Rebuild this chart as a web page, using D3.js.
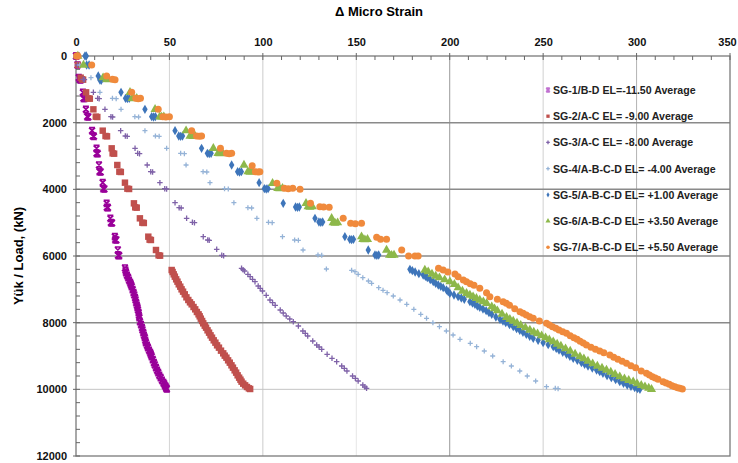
<!DOCTYPE html>
<html>
<head>
<meta charset="utf-8">
<script src="https://cdn.jsdelivr.net/npm/d3@7/dist/d3.min.js"></script>
<style>
  html, body { margin: 0; padding: 0; background: #fff; }
  svg { display: block; font-family: "Liberation Sans", Arial, sans-serif; }
</style>
</head>
<body>
<svg id="chart" width="738" height="463"></svg>
<script>
// Strain gauge readings: [delta micro strain, load kN]
const sg1 = [[0,0],[0.3,0],[0.8,270],[1.5,650],[2.0,700],[2.4,720],[3.7,1090],[4.0,1270],[4.5,1270],
  [5.3,1600],[6.0,1820],[6.6,1830],[8.6,2240],[9.0,2400],[9.6,2410],[11.0,2770],[11.0,2920],[11.6,2930],
  [12.3,3270],[12.6,3470],[13.2,3480],[14.3,3800],[14.6,3980],[15.2,3990],[16.4,4420],[16.5,4540],[17.1,4550],
  [18.4,4870],[18.7,5000],[19.3,5010],[20.8,5420],[21.0,5510],[21.6,5520],[22.4,5820],[22.5,5980],[23.1,5990],
  [26.2,6360],[26.5,6430],[26.8,6500],[27.3,6580],[27.9,6650],[28.4,6730],[29.0,6800],[29.4,6860],[29.8,6920],
  [30.3,7010],[30.8,7100],[31.2,7170],[31.6,7250],[31.9,7320],[32.2,7400],[32.6,7480],[32.9,7550],[33.2,7620],
  [33.5,7700],[33.7,7780],[33.9,7850],[34.2,7970],[34.8,8060],[35.3,8150],[35.6,8220],[36.0,8300],[36.4,8380],
  [36.8,8450],[37.1,8530],[37.4,8600],[38.0,8680],[38.5,8750],[39.1,8830],[39.7,8900],[40.1,8960],[40.5,9020],
  [41.1,9110],[41.7,9200],[42.2,9270],[42.8,9350],[43.4,9430],[44.0,9500],[44.6,9580],[45.3,9650],[46.0,9730],
  [46.8,9800],[47.3,9850],[47.8,9900],[48.1,9940],[48.4,9970],[48.6,9990]];

const sg2 = [[0.5,0],[1.0,270],[2.5,650],[3.2,700],[3.8,710],[5.4,1090],[6.6,1270],[7.4,1280],
  [9.3,1600],[10.6,1820],[11.4,1830],[14.3,2240],[15.8,2400],[16.6,2410],[19.1,2770],[19.6,2920],[20.4,2930],
  [22.1,3270],[23.2,3470],[24.0,3480],[26.2,3800],[27.5,3980],[28.4,3990],[31.0,4420],[31.7,4540],[32.5,4550],
  [34.2,4870],[35.5,5000],[36.3,5010],[38.7,5420],[39.4,5510],[40.1,5520],[42.8,5820],[44.2,5980],[45.0,5990],
  [51.2,6420],[51.7,6480],[52.3,6550],[52.9,6620],[53.6,6700],[54.3,6770],[55.0,6850],[55.8,6920],[56.5,7000],
  [57.3,7070],[58.2,7150],[59.1,7240],[60.1,7320],[61.0,7390],[61.9,7450],[62.9,7530],[63.8,7600],[64.7,7680],
  [65.6,7750],[66.2,7810],[66.8,7880],[67.5,7950],[68.1,8020],[68.9,8090],[69.6,8150],[70.4,8230],[71.2,8300],
  [72.0,8380],[72.8,8450],[73.7,8530],[74.6,8600],[75.5,8680],[76.5,8750],[77.6,8840],[78.8,8920],[79.6,8990],
  [80.5,9050],[81.4,9130],[82.3,9200],[83.2,9280],[84.0,9350],[84.9,9430],[85.7,9500],[86.5,9580],[87.3,9650],
  [88.0,9710],[88.6,9770],[89.5,9830],[90.5,9880],[91.5,9930],[92.5,9970],[93.2,9990]];

const sg3 = [[0.3,0],[0.8,270],[3.9,700],[4.5,710],[9.3,1090],[11.6,1270],[12.4,1280],
  [15.5,1600],[18.7,1820],[19.6,1830],[23.9,2240],[26.4,2400],[27.4,2410],[31.6,2770],[33.0,2920],[34.0,2930],
  [38.1,3270],[40.0,3470],[41.0,3480],[44.9,3800],[47.5,3980],[48.5,3990],[53.0,4400],[55.2,4550],[56.3,4560],
  [59.2,4870],[62.3,4990],[63.4,5000],[68.1,5420],[70.5,5520],[71.3,5530],[75.3,5800],[78.0,5980],[79.0,5990],
  [88.6,6370],[89.4,6410],[90.2,6450],[92.0,6550],[93.2,6620],[94.5,6700],[95.8,6770],[97.5,6900],[98.6,6970],
  [99.8,7050],[101.8,7180],[103.8,7320],[105.2,7400],[106.6,7480],[109.3,7620],[110.9,7710],[112.5,7800],
  [114.4,7890],[116.3,7970],[119.0,8100],[121.4,8250],[122.7,8320],[124.0,8400],[126.7,8550],[128.8,8670],
  [130.1,8730],[131.5,8800],[134.4,8950],[137.0,9070],[139.5,9170],[142.2,9300],[143.6,9370],[145.0,9450],
  [148.0,9600],[149.5,9670],[151.0,9750],[153.5,9870],[154.6,9930],[155.5,9970]];

const sg4 = [[0.5,0],[2.0,270],[8.0,650],[13.0,700],[14.5,720],[12.8,1090],[19.5,1270],[21.5,1280],
  [24.1,1600],[31.5,1820],[33.5,1830],[36.9,2240],[42.5,2400],[44.5,2410],[48.5,2770],[56.0,2920],[58.0,2930],
  [58.9,3270],[68.0,3470],[70.0,3480],[71.7,3800],[79.5,3980],[81.5,3990],[84.5,4400],[92.0,4550],[94.0,4560],
  [96.8,4870],[103.0,4990],[105.0,5000],[110.5,5420],[117.0,5520],[119.0,5530],[121.5,5820],[129.5,5970],[131.5,5980],
  [134.0,6390],[147.5,6430],[149.3,6470],[151.0,6550],[153.5,6650],[156.5,6750],[158.2,6820],[162.0,6950],
  [164.3,7030],[166.5,7100],[169.8,7200],[173.4,7320],[177.0,7450],[180.8,7600],[184.5,7750],[187.6,7870],
  [191.0,8000],[194.5,8120],[198.2,8250],[201.8,8370],[205.5,8500],[211.0,8620],[214.4,8720],[218.5,8850],
  [223.0,9000],[228.6,9170],[233.0,9300],[237.5,9450],[241.5,9600],[246.0,9750],[251.8,9920],[256.5,9970],
  [258.0,9980]];

const sg5 = [[4.8,0],[5.5,0],[5.7,270],[7.0,270],[11.9,600],[12.8,720],[13.5,730],[24.1,1090],[26.5,1270],
  [27.5,1280],[28.5,1270],[36.9,1600],[40.5,1820],[41.5,1830],[42.5,1820],[53.0,2240],[55.0,2400],[56.0,2410],
  [57.0,2400],[67.2,2770],[70.3,2920],[71.3,2930],[72.3,2920],[83.3,3270],[86.5,3470],[87.5,3480],[88.5,3470],
  [98.0,3800],[100.8,3980],[101.8,3990],[102.8,3980],[110.9,4420],[117.5,4530],[118.5,4540],[119.5,4530],
  [127.9,4870],[130.0,4980],[131.0,4990],[132.0,4980],[143.9,5420],[146.5,5500],[147.5,5510],[148.5,5500],
  [156.4,5820],[160.0,5970],[161.0,5980],[162.0,5970],
  [178.7,6400],[180.0,6440],[181.5,6480],[183.5,6530],[185.8,6570],[187.0,6610],[188.0,6650],[189.6,6710],
  [191.2,6770],[192.5,6820],[193.9,6870],[195.2,6910],[196.5,6950],[198.3,7020],[199.2,7070],[200.1,7120],
  [202.3,7170],[204.5,7220],[206.2,7260],[207.8,7300],[210.8,7370],[212.2,7410],[213.5,7450],[214.8,7500],
  [216.1,7540],[217.8,7590],[219.5,7640],[221.0,7700],[222.5,7750],[224.7,7830],[226.9,7900],[228.5,7950],
  [230.0,8000],[232.0,8060],[234.0,8120],[235.8,8180],[237.5,8230],[239.2,8290],[241.0,8350],[242.8,8410],
  [244.7,8470],[247.3,8530],[250.0,8600],[252.7,8660],[255.4,8720],[257.0,8770],[258.5,8820],[260.5,8890],
  [262.5,8950],[264.3,9010],[266.1,9070],[268.3,9130],[270.5,9200],[272.2,9250],[274.0,9300],[276.3,9360],
  [278.6,9420],[280.3,9470],[282.0,9520],[284.2,9590],[286.5,9650],[288.8,9710],[291.0,9770],[293.0,9820],
  [295.0,9870],[297.0,9910],[299.0,9950],[300.5,9980],[301.8,10000]];

const sg6 = [[1.0,0],[4.0,270],[14.5,650],[16.4,700],[17.5,710],[28.9,1090],[30.0,1270],[31.0,1280],[32.5,1270],
  [42.3,1600],[44.8,1820],[45.8,1830],[47.0,1820],[58.9,2240],[61.0,2400],[62.5,2410],[63.7,2400],
  [73.5,2770],[76.0,2920],[77.0,2930],[78.5,2920],[89.9,3270],[92.0,3470],[93.1,3480],[94.5,3470],
  [105.2,3820],[108.0,3970],[109.1,3980],[110.5,3970],[123.1,4420],[124.2,4520],[125.2,4530],[126.5,4520],
  [136.8,4870],[137.6,5000],[138.6,5010],[140.0,5000],[152.8,5420],[153.5,5500],[154.6,5510],[156.0,5500],
  [166.2,5820],[167.8,5970],[168.9,5980],[170.2,5970],
  [186.7,6420],[188.5,6470],[190.5,6540],[192.5,6600],[194.5,6650],[197.3,6710],[200.1,6770],[202.5,6850],
  [204.5,6950],[206.8,7050],[209.0,7120],[210.8,7170],[212.5,7220],[214.3,7270],[216.1,7320],[218.0,7370],
  [219.8,7420],[222.5,7520],[224.0,7580],[225.5,7640],[228.0,7740],[230.4,7840],[232.2,7900],[234.0,7950],
  [236.0,8010],[238.0,8080],[240.5,8150],[242.9,8220],[245.0,8280],[247.0,8330],[249.2,8390],[251.3,8450],
  [253.3,8510],[255.4,8570],[257.5,8640],[259.5,8700],[262.0,8780],[264.5,8850],[267.1,8940],[269.7,9020],
  [271.8,9080],[274.0,9150],[276.5,9230],[279.0,9300],[281.5,9360],[283.9,9420],[286.2,9480],[288.5,9550],
  [291.0,9620],[293.5,9680],[295.8,9730],[298.2,9770],[300.3,9830],[302.5,9880],[304.5,9920],[306.5,9960],
  [308.0,10000]];

const sg7 = [[0.4,0],[1.0,0],[8.4,270],[16.4,600],[19.5,700],[20.9,710],[29.8,1090],[32.0,1270],[33.3,1280],
  [34.5,1270],[44.0,1600],[46.5,1820],[48.1,1830],[50.0,1820],[61.9,2240],[64.5,2400],[66.0,2410],[67.2,2400],
  [77.3,2770],[80.5,2920],[82.0,2930],[83.3,2920],[94.3,3290],[96.0,3470],[97.5,3480],[98.4,3470],
  [107.5,3820],[111.5,3970],[113.6,3980],[116.0,3970],[119.9,4000],[125.5,4420],[130.5,4520],[132.5,4530],
  [135.5,4540],[143.0,4870],[147.0,5020],[149.5,5030],[152.8,5020],[160.9,5440],[163.0,5500],[166.2,5500],
  [174.3,5820],[178.0,6000],[181.4,6000],[183.1,6000],
  [194.0,6370],[196.5,6420],[199.0,6480],[202.8,6540],[204.5,6620],[207.3,6720],[209.0,6770],[211.0,6830],
  [213.0,6880],[216.1,6970],[219.7,7100],[221.5,7220],[225.5,7300],[228.6,7370],[230.3,7420],[232.0,7480],
  [234.8,7580],[237.6,7670],[239.3,7720],[241.0,7770],[242.8,7820],[244.7,7870],[248.0,7950],[251.8,8020],
  [253.4,8070],[255.0,8120],[256.8,8170],[258.5,8220],[260.5,8270],[262.5,8320],[264.5,8390],[266.5,8450],
  [268.2,8500],[269.8,8560],[271.5,8610],[273.2,8670],[275.6,8740],[278.0,8800],[280.3,8850],[282.5,8900],
  [285.7,8970],[287.8,9040],[290.0,9100],[292.3,9160],[294.6,9220],[297.0,9290],[299.5,9350],[302.5,9450],
  [305.3,9520],[306.9,9570],[308.5,9620],[310.0,9660],[311.5,9700],[314.2,9770],[315.8,9810],[317.5,9850],
  [319.0,9890],[320.5,9920],[322.0,9950],[323.2,9970],[324.5,9990]];

const seriesNames = [
  "SG-1/B-D EL=-11.50 Average",
  "SG-2/A-C EL= -9.00 Average",
  "SG-3/A-C EL= -8.00 Average",
  "SG-4/A-B-C-D EL= -4.00 Average",
  "SG-5/A-B-C-D EL= +1.00 Average",
  "SG-6/A-B-C-D EL= +3.50 Average",
  "SG-7/A-B-C-D EL= +5.50 Average"
];
const seriesData = [sg1, sg2, sg3, sg4, sg5, sg6, sg7];
const seriesColors = ["#990099", "#C0504D", "#7F62A8", "#95B3D7", "#3E75BA", "#8DB84A", "#F08A3C"];
const seriesMarkers = ["star", "square", "plus", "plus", "diamond", "triangle", "circle"];

const xTicks = [0, 50, 100, 150, 200, 250, 300, 350];
const yTicks = [0, 2000, 4000, 6000, 8000, 10000, 12000];

const svg = d3.select("#chart");
const x = d3.scaleLinear().domain([0, 350]).range([76, 730]);
const y = d3.scaleLinear().domain([0, 12000]).range([56, 456]);

// Title
svg.append("text")
  .attr("x", 379).attr("y", 16)
  .attr("text-anchor", "middle")
  .attr("font-size", 13).attr("font-weight", "bold")
  .text("\u0394 Micro Strain");

// Y axis title
svg.append("text")
  .attr("transform", "translate(23,256) rotate(-90)")
  .attr("text-anchor", "middle")
  .attr("font-size", 13).attr("font-weight", "bold")
  .text("Yük / Load, (kN)");

// Gridlines
const vGridStyle = {50: ["#d4d4d4", 1], 100: ["#cccccc", 1], 150: ["#e6e6e6", 1], 200: ["#9a9a9a", 1],
                    250: ["#d0d0d0", 1], 300: ["#b4b4b4", 1]};
const grid = svg.append("g");
Object.keys(vGridStyle).forEach(k => {
  const v = +k;
  grid.append("line")
    .attr("x1", x(v)).attr("x2", x(v)).attr("y1", y(0)).attr("y2", y(12000))
    .attr("stroke", vGridStyle[k][0]).attr("stroke-width", vGridStyle[k][1]);
});
[2000, 4000, 6000, 8000, 10000].forEach(v => {
  grid.append("line")
    .attr("x1", x(0)).attr("x2", x(350)).attr("y1", y(v)).attr("y2", y(v))
    .attr("stroke", v === 10000 ? "#c4c4c4" : "#8a8a8a")
    .attr("stroke-width", v === 10000 ? 1 : 1.5);
});

// Frame
svg.append("rect")
  .attr("x", x(0)).attr("y", y(0))
  .attr("width", x(350) - x(0)).attr("height", y(12000) - y(0))
  .attr("fill", "none").attr("stroke", "#7a7a7a").attr("stroke-width", 1.3);

// Major and minor ticks
const ticks = svg.append("g").attr("stroke", "#666").attr("stroke-width", 1);
d3.range(0, 351, 10).forEach(v => {
  const major = v % 50 === 0;
  ticks.append("line").attr("x1", x(v)).attr("x2", x(v))
    .attr("y1", y(0) - (major ? 3 : 0)).attr("y2", y(0) + 4);
});
d3.range(0, 12001, 400).forEach(v => {
  const major = v % 2000 === 0;
  ticks.append("line").attr("y1", y(v)).attr("y2", y(v))
    .attr("x1", x(0) - (major ? 3 : 0)).attr("x2", x(0) + 4);
});

// Axis labels
const xAxis = svg.append("g")
  .attr("transform", `translate(0,${y(0)})`)
  .call(d3.axisTop(x).tickValues(xTicks).tickSize(0).tickPadding(10).tickFormat(d3.format("d")));
xAxis.select(".domain").remove();
xAxis.selectAll("text").attr("font-size", 11).attr("font-weight", "bold").attr("fill", "#111")
  .attr("font-family", "'Liberation Sans', Arial, sans-serif");
// keep the last label inside the page
xAxis.selectAll(".tick").filter(d => d === 350).select("text").attr("dx", -3);

const yAxis = svg.append("g")
  .attr("transform", `translate(${x(0)},0)`)
  .call(d3.axisLeft(y).tickValues(yTicks).tickSize(0).tickPadding(9).tickFormat(d3.format("d")));
yAxis.select(".domain").remove();
yAxis.selectAll("text").attr("font-size", 11).attr("font-weight", "bold").attr("fill", "#111")
  .attr("font-family", "'Liberation Sans', Arial, sans-serif");

// Marker drawing
function drawMarker(sel, type, color, size) {
  const r = size / 2;
  if (type === "star") {
    sel.append("path")
      .attr("d", `M${-r},${-r}L${r},${r}M${-r},${r}L${r},${-r}M${-r},${-r}L${r},${-r}M${-r},${r}L${r},${r}`)
      .attr("stroke", color).attr("stroke-width", 1.7).attr("fill", "none");
  } else if (type === "plus") {
    sel.append("path")
      .attr("d", `M${-r},0L${r},0M0,${-r}L0,${r}`)
      .attr("stroke", color).attr("stroke-width", 1.3).attr("fill", "none");
  } else {
    const sym = {square: d3.symbolSquare, diamond: d3.symbolDiamond, triangle: d3.symbolTriangle,
                 circle: d3.symbolCircle}[type];
    const area = type === "circle" ? Math.PI * r * r : (type === "diamond" ? size * size * 0.6 : size * size * 0.85);
    sel.append("path").attr("d", d3.symbol(sym, area)()).attr("fill", color);
  }
}

const markerSizes = [6, 7, 5.5, 5, 6.5, 6.5, 7];
const plot = svg.append("g");
seriesData.forEach((data, i) => {
  const g = plot.append("g");
  data.forEach(d => {
    const m = g.append("g").attr("transform", `translate(${x(d[0])},${y(d[1])})`);
    drawMarker(m, seriesMarkers[i], seriesColors[i], markerSizes[i]);
  });
});

// Legend
const legend = svg.append("g");
seriesNames.forEach((name, i) => {
  const ly = 90 + i * 26.2;
  const m = legend.append("g").attr("transform", `translate(548,${ly})`);
  drawMarker(m, seriesMarkers[i], i === 0 ? "#c070d0" : seriesColors[i], 3.6);
  legend.append("text")
    .attr("x", 553).attr("y", ly + 4)
    .attr("font-size", 10.6).attr("font-weight", "bold").attr("fill", "#222")
    .text(name);
});
</script>
</body>
</html>
